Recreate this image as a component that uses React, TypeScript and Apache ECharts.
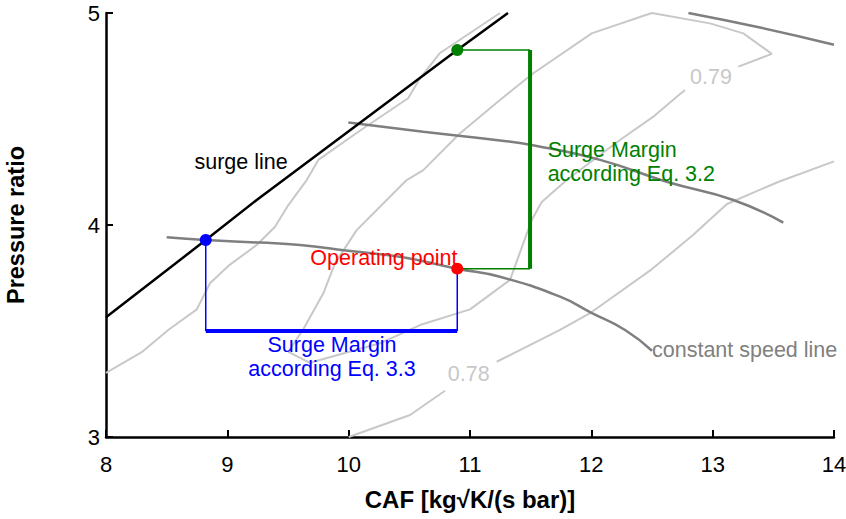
import React, { useEffect, useRef } from "react";
import * as echarts from "echarts";

// ---- data (CAF, pressure ratio) ----
const surgeLine = [[8, 3.565], [8.822, 3.929], [9.242, 4.118], [10.0, 4.442], [10.895, 4.825], [11.313, 5.0]];
const speedLineLow = [[8.5, 3.942], [8.822, 3.929], [9.269, 3.917], [9.599, 3.906], [10.011, 3.877], [10.423, 3.85], [10.895, 3.794], [11.247, 3.756], [11.742, 3.662], [11.997, 3.587], [12.278, 3.505], [12.5, 3.407]];
const speedLineMid = [[9.997, 4.483], [10.615, 4.44], [11.247, 4.399], [11.509, 4.377], [12.072, 4.307], [12.621, 4.204], [13.17, 4.118], [13.582, 4.011]];
const speedLineTop = [[12.8, 5.0], [13.4, 4.93], [14.0, 4.85]];

const eff078Left = [[8.0, 3.303], [8.294, 3.4], [8.513, 3.505], [8.748, 3.602], [8.857, 3.725], [9.008, 3.807], [9.242, 3.906], [9.393, 3.992], [9.503, 4.094], [9.654, 4.212], [9.75, 4.307], [10.08, 4.44], [10.49, 4.598], [10.588, 4.692], [10.75, 4.81], [11.247, 5.0]];
const eff078RightA = [[10.0, 3.0], [10.506, 3.104], [10.794, 3.218]];
const eff078RightB = [[11.22, 3.355], [11.742, 3.505], [11.997, 3.587], [12.5, 3.792], [12.838, 3.953], [13.118, 4.099], [13.539, 4.203], [14.0, 4.3]];
const eff079Loop = [[12.772, 4.637], [12.704, 4.605], [12.511, 4.511], [12.236, 4.401], [11.797, 4.212], [11.591, 4.108], [11.509, 4.024], [11.33, 3.741], [11.0, 3.602], [10.588, 3.528], [10.258, 3.442], [9.681, 3.35], [9.503, 3.402], [9.626, 3.508], [9.791, 3.678], [9.887, 3.819], [10.066, 3.976], [10.258, 4.086], [10.478, 4.212], [10.615, 4.259], [10.918, 4.433], [11.247, 4.59], [11.522, 4.716], [12.003, 4.904], [12.498, 5.0], [12.978, 4.951], [13.253, 4.904], [13.487, 4.807], [13.212, 4.747]];

const surgePoint = [8.822, 3.929];
const operatingPoint = [10.895, 3.794];
const surgePointEq32 = [10.895, 4.825];
const marginEq33Y = 3.5;
const marginEq32X = 11.495;

const annotations = [
  { text: "surge line", at: [9.113, 4.297], color: "#000000", align: "center" },
  { text: "Operating point", at: [10.29, 3.846], color: "#ff0000", align: "center" },
  { text: "Surge Margin\naccording Eq. 3.3", at: [9.863, 3.377], color: "#0000ff", align: "center" },
  { text: "Surge Margin\naccording Eq. 3.2", at: [11.64, 4.297], color: "#008000", align: "left" },
  { text: "constant speed line", at: [12.5, 3.41], color: "#808080", align: "left" },
  { text: "0.78", at: [10.99, 3.297], color: "#c8c8c8", align: "center" },
  { text: "0.79", at: [12.986, 4.698], color: "#c8c8c8", align: "center" },
];

const FONT = "'Liberation Sans', Arial, Helvetica, sans-serif";

function lineSeries(data: number[][], color: string, width: number, z: number, smooth = false) {
  return {
    type: "line",
    data,
    symbol: "none",
    smooth,
    silent: true,
    z,
    lineStyle: { color, width, cap: "butt", opacity: 1 },
  };
}

export default function App() {
  const ref = useRef<HTMLDivElement>(null);
  useEffect(() => {
    if (!ref.current) return;
    const chart = echarts.init(ref.current, undefined, { renderer: "svg" });
    const series: any[] = [
      lineSeries(eff078Left, "#c8c8c8", 2, 1),
      lineSeries(eff078RightA, "#c8c8c8", 2, 1),
      lineSeries(eff078RightB, "#c8c8c8", 2, 1),
      lineSeries(eff079Loop, "#c8c8c8", 2, 1),
      lineSeries(speedLineLow, "#7f7f7f", 2.5, 2, true),
      lineSeries(speedLineMid, "#7f7f7f", 2.5, 2, true),
      lineSeries(speedLineTop, "#7f7f7f", 2.5, 2, true),
      lineSeries(surgeLine, "#000000", 2.5, 3),
      lineSeries([surgePoint, [surgePoint[0], marginEq33Y]], "#0000ff", 1.5, 4),
      lineSeries([operatingPoint, [operatingPoint[0], marginEq33Y]], "#0000ff", 1.5, 4),
      lineSeries([[surgePoint[0], marginEq33Y], [operatingPoint[0], marginEq33Y]], "#0000ff", 4, 4),
      lineSeries([surgePointEq32, [marginEq32X, surgePointEq32[1]]], "#008000", 1.5, 4),
      lineSeries([operatingPoint, [marginEq32X, operatingPoint[1]]], "#008000", 1.5, 4),
      lineSeries([[marginEq32X, surgePointEq32[1]], [marginEq32X, operatingPoint[1]]], "#008000", 4, 4),
      {
        type: "scatter",
        silent: true,
        z: 6,
        symbolSize: 12,
        data: [
          { value: surgePoint, itemStyle: { color: "#0000ff", opacity: 1 } },
          { value: operatingPoint, itemStyle: { color: "#ff0000", opacity: 1 } },
          { value: surgePointEq32, itemStyle: { color: "#008000", opacity: 1 } },
        ],
      },
      {
        type: "scatter",
        silent: true,
        z: 7,
        symbolSize: 0,
        itemStyle: { opacity: 1 },
        data: annotations.map((a) => ({
          value: a.at,
          label: {
            show: true,
            position: "inside",
            formatter: a.text,
            color: a.color,
            opacity: 1,
            align: a.align,
            verticalAlign: "middle",
            fontSize: 21.5,
            lineHeight: 24,
            fontFamily: FONT,
          },
        })),
      },
    ];
    chart.setOption({
      animation: false,
      grid: { left: 106, right: 12, top: 13, bottom: 82, containLabel: false, outerBoundsMode: "none" },
      xAxis: {
        type: "value",
        min: 8,
        max: 14,
        interval: 1,
        name: "CAF [kg√K/(s bar)]",
        nameLocation: "middle",
        nameGap: 50,
        nameTextStyle: { color: "#000", fontSize: 24, fontWeight: "bold", fontFamily: FONT },
        axisLine: { lineStyle: { color: "#000", width: 2.5 } },
        axisTick: { inside: true, length: 7, lineStyle: { color: "#000", width: 2 } },
        axisLabel: { color: "#000", fontSize: 22, margin: 16, fontFamily: FONT },
        splitLine: { show: false },
      },
      yAxis: {
        type: "value",
        min: 3,
        max: 5,
        interval: 1,
        name: "Pressure ratio",
        nameLocation: "middle",
        nameGap: 78,
        nameTextStyle: { color: "#000", fontSize: 23.5, fontWeight: "bold", fontFamily: FONT },
        axisLine: { lineStyle: { color: "#000", width: 2.5 } },
        axisTick: { inside: true, length: 7, lineStyle: { color: "#000", width: 2 } },
        axisLabel: { color: "#000", fontSize: 22, margin: 6, fontFamily: FONT },
        splitLine: { show: false },
      },
      series,
    });
    return () => chart.dispose();
  }, []);
  return (
    <div
      ref={ref}
      style={{ position: "fixed", left: 0, top: 0, width: 846, height: 519, background: "#fff" }}
    />
  );
}
